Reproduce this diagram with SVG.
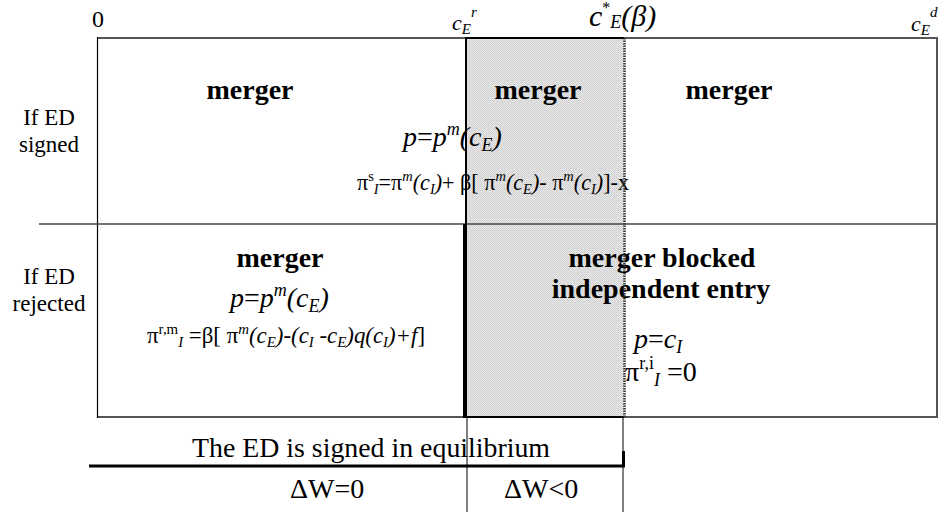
<svg xmlns="http://www.w3.org/2000/svg" width="942" height="514" viewBox="0 0 942 514" font-family="Liberation Serif, Tinos, 'Times New Roman', 'DejaVu Serif', serif">
<style>
text, tspan{font-family:"Liberation Serif", Tinos, "Times New Roman", "DejaVu Serif", serif !important;fill:#000}
.hd{font-weight:bold;font-size:28px;text-anchor:middle}
.lb{font-size:23px;text-anchor:middle}
.m{font-size:28px}
.f{font-size:23px}
.it{font-style:italic}
.gl{stroke:#555;stroke-width:2;fill:none}
.bk{stroke:#000;fill:none}
</style>
<defs>
<pattern id="dots" width="2" height="2" patternUnits="userSpaceOnUse">
<rect width="2" height="2" fill="#e6e6e6"/>
<rect width="1" height="1" fill="#cfcfcf"/>
<rect x="1" y="1" width="1" height="1" fill="#d6d6d6"/>
</pattern>
</defs>
<g id="background">
<rect x="97" y="38" width="840" height="379" fill="#fff"/>
<rect x="466" y="38" width="158" height="379" fill="url(#dots)"/>
</g>
<g id="axis-labels">
<text x="92" y="27" font-size="24">0</text>
<text x="452" y="30" font-size="22" class="it">c<tspan font-size="15" dy="4">E</tspan><tspan font-size="15" dy="-17">r</tspan></text>
<text x="589" y="26" font-size="30" class="it">c<tspan font-size="16" dy="-13" font-style="normal">*</tspan><tspan font-size="18" dy="15">E</tspan><tspan dy="-2">(β)</tspan></text>
<text x="911" y="31" font-size="22" class="it">c<tspan font-size="15" dy="4">E</tspan><tspan font-size="15" dy="-18">d</tspan></text>
</g>
<g id="row-labels">
<text class="lb" x="49" y="125">If ED</text>
<text class="lb" x="49" y="152">signed</text>
<text class="lb" x="49" y="284">If ED</text>
<text class="lb" x="49" y="311">rejected</text>
</g>
<g id="signed-row">
<text class="hd" x="250" y="99">merger</text>
<text class="hd" x="538" y="99">merger</text>
<text class="hd" x="729" y="99">merger</text>
<text class="m" x="403" y="146"><tspan class="it">p</tspan>=<tspan class="it">p</tspan><tspan class="it" font-size="18" dy="-11">m</tspan><tspan class="it" dy="11">(c</tspan><tspan class="it" font-size="18" dy="5">E</tspan><tspan class="it" dy="-5">)</tspan></text>
<text class="f" x="357" y="190" textLength="272" lengthAdjust="spacingAndGlyphs">π<tspan font-size="15" dy="-9">s</tspan><tspan class="it" font-size="15" dy="13">I</tspan><tspan dy="-4">=π</tspan><tspan class="it" font-size="15" dy="-9">m</tspan><tspan class="it" dy="9">(c</tspan><tspan class="it" font-size="15" dy="4">I</tspan><tspan class="it" dy="-4">)</tspan>+ β[ π<tspan class="it" font-size="15" dy="-9">m</tspan><tspan class="it" dy="9">(c</tspan><tspan class="it" font-size="15" dy="4">E</tspan><tspan class="it" dy="-4">)</tspan>- π<tspan class="it" font-size="15" dy="-9">m</tspan><tspan class="it" dy="9">(c</tspan><tspan class="it" font-size="15" dy="4">I</tspan><tspan class="it" dy="-4">)</tspan>]-x</text>
</g>
<g id="rejected-merger">
<text class="hd" x="280" y="267">merger</text>
<text class="m" x="230" y="307"><tspan class="it">p</tspan>=<tspan class="it">p</tspan><tspan class="it" font-size="18" dy="-11">m</tspan><tspan class="it" dy="11">(c</tspan><tspan class="it" font-size="18" dy="5">E</tspan><tspan class="it" dy="-5">)</tspan></text>
<text class="f" x="147" y="343" textLength="278" lengthAdjust="spacingAndGlyphs">π<tspan font-size="15" dy="-9">r,m</tspan><tspan class="it" font-size="15" dy="13">I</tspan><tspan dy="-4"> =β[ π</tspan><tspan class="it" font-size="15" dy="-9">m</tspan><tspan class="it" dy="9">(c</tspan><tspan class="it" font-size="15" dy="4">E</tspan><tspan class="it" dy="-4">)-(c</tspan><tspan class="it" font-size="15" dy="4">I</tspan><tspan class="it" dy="-4"> -c</tspan><tspan class="it" font-size="15" dy="4">E</tspan><tspan class="it" dy="-4">)q(c</tspan><tspan class="it" font-size="15" dy="4">I</tspan><tspan class="it" dy="-4">)+f</tspan>]</text>
</g>
<g id="rejected-blocked">
<text class="hd" x="662" y="267">merger blocked</text>
<text class="hd" x="661" y="298">independent entry</text>
<text class="m" x="634" y="348"><tspan class="it">p</tspan>=<tspan class="it">c</tspan><tspan class="it" font-size="18" dy="5">I</tspan></text>
<text class="m" x="625" y="381">π<tspan font-size="18" dy="-12">r,i</tspan><tspan class="it" font-size="18" dy="17">I</tspan><tspan dy="-5"> =0</tspan></text>
</g>
<g id="connectors">
<line class="gl" x1="97" y1="38" x2="937" y2="38"/>
<line class="gl" x1="937" y1="37" x2="937" y2="418"/>
<line class="gl" x1="97" y1="417" x2="937" y2="417"/>
<line class="bk" stroke-width="1.2" x1="97.5" y1="37" x2="97.5" y2="418"/>
<line stroke="#444" stroke-width="1.5" x1="39" y1="224" x2="937" y2="224"/>
<line class="bk" stroke-width="2" x1="466" y1="38" x2="624" y2="38"/>
<line class="bk" stroke-width="2" x1="466" y1="417" x2="624" y2="417"/>
<line class="bk" stroke-width="2" x1="466" y1="37" x2="466" y2="224"/>
<line class="bk" stroke-width="4" x1="465" y1="224" x2="465" y2="418"/>
<line stroke="#333" stroke-width="2.5" stroke-dasharray="1.5 1" x1="624.5" y1="38" x2="624.5" y2="417"/>
<line class="bk" stroke-width="1" x1="467" y1="418" x2="467" y2="512"/>
<line class="bk" stroke-width="1" x1="623" y1="418" x2="623" y2="512"/>
<line class="bk" stroke-width="3" x1="89" y1="466" x2="625" y2="466"/>
<line class="bk" stroke-width="3" x1="623.5" y1="451" x2="623.5" y2="467"/>
</g>
<g id="bottom-labels">
<text class="m" x="192" y="457" textLength="358" lengthAdjust="spacingAndGlyphs">The ED is signed in equilibrium</text>
<text class="m" x="290" y="498">ΔW=0</text>
<text class="m" x="504" y="498">ΔW&lt;0</text>
</g>
</svg>
